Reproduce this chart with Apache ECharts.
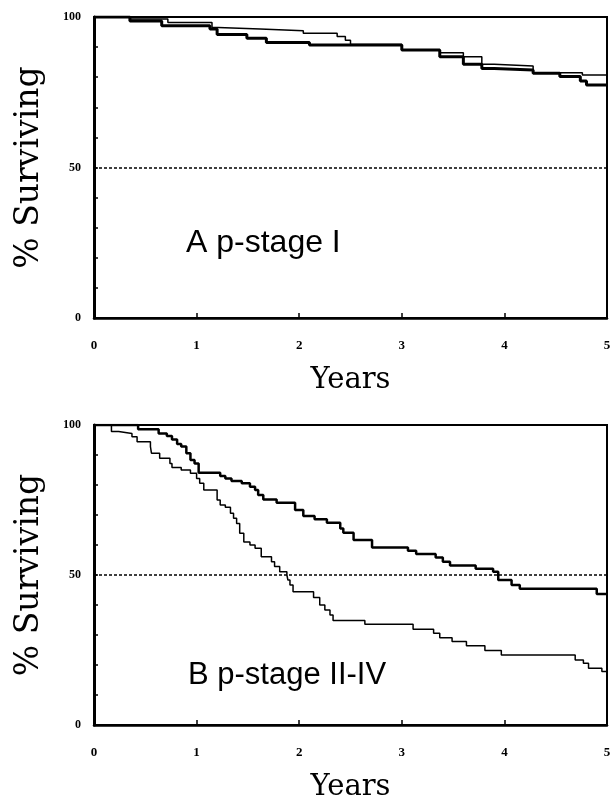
<!DOCTYPE html>
<html>
<head>
<meta charset="utf-8">
<script src="https://cdn.jsdelivr.net/npm/echarts@6/dist/echarts.min.js"></script>
<style>
html, body { margin: 0; padding: 0; background: #fff; }
#chart { width: 612px; height: 801px; }
</style>
</head>
<body>
<div id="chart"></div>
<script>
// panel A, p-stage I : two Kaplan-Meier curves (thick / thin)
const aThickYears = [0, 0.35, 0.66, 1.13, 1.2, 1.49, 1.68, 2.1, 3.0, 3.37, 3.6, 3.78, 3.9, 4.28, 4.54, 4.74, 4.8, 5.0]
const aThickPct = [100, 98.7, 97.1, 96.0, 94.2, 92.9, 91.5, 90.7, 89.0, 86.8, 84.3, 82.9, 82.4, 81.3, 80.2, 78.7, 77.4, 77.4]
const aThinYears = [0, 0.35, 0.72, 1.15, 1.21, 1.62, 2.04, 2.37, 2.45, 2.5, 3.0, 3.37, 3.6, 3.78, 3.9, 4.28, 4.76, 5.0]
const aThinPct = [100, 99.3, 98.2, 96.5, 96.0, 95.4, 94.6, 93.5, 92.3, 90.9, 89.0, 88.1, 86.8, 84.3, 83.7, 81.5, 80.7, 80.7]

// panel B, p-stage II-IV
const bThickYears = [0, 0.43, 0.63, 0.71, 0.76, 0.81, 0.85, 0.90, 0.94, 0.98, 1.02, 1.23, 1.28, 1.34, 1.44, 1.52, 1.57, 1.60, 1.65, 1.78, 1.96, 2.04, 2.15, 2.27, 2.40, 2.43, 2.53, 2.71, 3.06, 3.14, 3.33, 3.40, 3.47, 3.72, 3.89, 3.94, 4.07, 4.15, 4.90, 5.0]
const bThickPct = [100, 98.6, 97.2, 96.3, 95.2, 93.7, 92.8, 90.6, 88.3, 87.2, 84.1, 83.0, 82.2, 81.3, 80.6, 79.4, 78.3, 76.7, 75.2, 74.1, 71.7, 69.7, 68.6, 67.4, 65.5, 64.1, 61.7, 59.2, 58.1, 57.0, 55.8, 54.4, 53.2, 52.1, 51.1, 48.3, 46.7, 45.4, 43.7, 43.7]
const bThinYears = [0, 0.17, 0.24, 0.37, 0.42, 0.55, 0.56, 0.64, 0.74, 0.76, 0.85, 0.94, 1.0, 1.03, 1.07, 1.20, 1.23, 1.28, 1.33, 1.36, 1.39, 1.42, 1.46, 1.52, 1.57, 1.63, 1.73, 1.76, 1.81, 1.88, 1.89, 1.91, 1.94, 2.14, 2.20, 2.25, 2.30, 2.33, 2.64, 3.11, 3.31, 3.37, 3.49, 3.63, 3.81, 3.97, 4.69, 4.77, 4.82, 4.95, 5.0]
const bThinPct = [100, 97.8, 97.2, 96.1, 94.4, 92.8, 90.6, 88.9, 87.2, 85.8, 85.0, 83.9, 82.2, 80.6, 78.3, 75.0, 73.3, 72.6, 70.6, 68.9, 67.2, 63.9, 61.0, 60.0, 58.9, 56.1, 54.4, 52.8, 51.1, 50.0, 48.3, 46.7, 44.4, 42.5, 40.0, 38.3, 36.7, 34.8, 33.6, 31.9, 30.6, 29.1, 27.8, 26.4, 24.8, 23.3, 21.7, 20.6, 18.9, 17.8, 17.8]

const yLabels = [0, 50, 100]
const panelLabels = ['A p-stage I', 'B p-stage II-IV']

const pairs = (xs, ys) => xs.map((x, i) => [x, ys[i]])

const serif = '"Liberation Serif", serif'
const nameSerif = '"DejaVu Serif", serif'
const sans = '"Liberation Sans", Arial, sans-serif'

const makeX = (gridIndex) => ({
  gridIndex: gridIndex,
  type: 'value',
  min: 0,
  max: 5,
  interval: 1,
  name: 'Years',
  nameLocation: 'middle',
  nameGap: 48,
  nameTextStyle: { fontFamily: nameSerif, fontSize: 29, color: '#000' },
  axisLine: { lineStyle: { color: '#000', width: 2.5 } },
  axisTick: { inside: true, length: 5, lineStyle: { color: '#000', width: 1.5 } },
  axisLabel: { margin: 21, fontFamily: serif, fontWeight: 'bold', fontSize: 13, color: '#000' },
  splitLine: { show: false }
})

const makeY = (gridIndex) => ({
  gridIndex: gridIndex,
  type: 'value',
  min: 0,
  max: 100,
  interval: 10,
  name: '% Surviving',
  nameLocation: 'middle',
  nameGap: 48,
  nameTextStyle: { fontFamily: nameSerif, fontSize: 33, color: '#000' },
  axisLine: { lineStyle: { color: '#000', width: 3 } },
  axisTick: { inside: true, length: 4, lineStyle: { color: '#000', width: 1.5 } },
  axisLabel: {
    margin: 13,
    fontFamily: serif,
    fontWeight: 'bold',
    fontSize: 12,
    color: '#000',
    formatter: (v) => (yLabels.indexOf(v) >= 0 ? String(v) : '')
  },
  splitLine: { show: false }
})

const halfLine = {
  silent: true,
  symbol: 'none',
  label: { show: false },
  lineStyle: { color: '#000', type: [3, 2], width: 1.5 },
  data: [{ yAxis: 50 }]
}

const curve = (idx, data, width, withHalf) => ({
  type: 'line',
  xAxisIndex: idx,
  yAxisIndex: idx,
  step: 'end',
  symbol: 'none',
  data: data,
  lineStyle: { color: '#000', width: width },
  markLine: withHalf ? halfLine : undefined,
  z: width > 2 ? 3 : 2
})

const chart = echarts.init(document.getElementById('chart'), null, { renderer: 'canvas' })
chart.setOption({
  animation: false,
  backgroundColor: '#fff',
  grid: [
    { left: 94, top: 17, width: 513, height: 301, show: true, borderColor: '#000', borderWidth: 2, outerBoundsMode: 'none' },
    { left: 94, top: 425, width: 513, height: 300, show: true, borderColor: '#000', borderWidth: 2, outerBoundsMode: 'none' }
  ],
  xAxis: [makeX(0), makeX(1)],
  yAxis: [makeY(0), makeY(1)],
  series: [
    curve(0, pairs(aThinYears, aThinPct), 1.5, true),
    curve(0, pairs(aThickYears, aThickPct), 3, false),
    curve(1, pairs(bThinYears, bThinPct), 1.5, true),
    curve(1, pairs(bThickYears, bThickPct), 2.5, false)
  ],
  graphic: [
    { type: 'text', x: 186, y: 243, style: { text: panelLabels[0], font: '32px ' + sans, fill: '#000', verticalAlign: 'middle' } },
    { type: 'text', x: 188, y: 675, style: { text: panelLabels[1], font: '31px ' + sans, fill: '#000', verticalAlign: 'middle' } }
  ]
})
</script>
</body>
</html>
